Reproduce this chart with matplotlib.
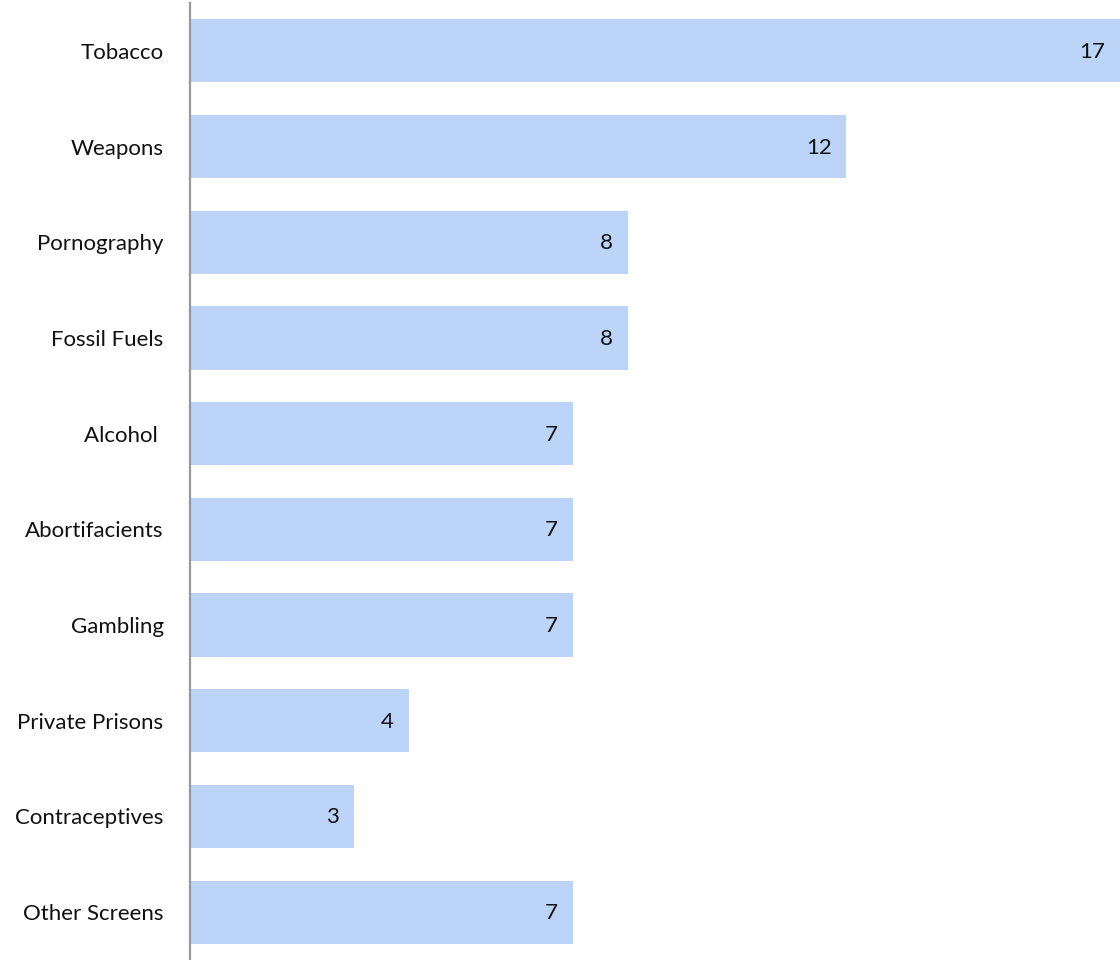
import matplotlib
matplotlib.use("Agg")
import matplotlib.pyplot as plt

categories = ["Tobacco", "Weapons", "Pornography", "Fossil Fuels", "Alcohol ",
              "Abortifacients", "Gambling", "Private Prisons", "Contraceptives",
              "Other Screens"]
counts = [17, 12, 8, 8, 7, 7, 7, 4, 3, 7]

plt.rcParams["font.family"] = ["Lato", "DejaVu Sans"]

fig = plt.figure(figsize=(11.2, 9.6), dpi=100)
ax = fig.add_axes([190 / 1120, 0, 1 - 190 / 1120, (960 - 3) / 960])

y = list(range(len(categories)))
ax.barh(y, counts, height=0.66, color="#bbd4f7")
ax.set_xlim(0, max(counts))
ax.set_ylim(len(categories) - 0.5, -0.5)
ax.set_yticks(y)
ax.set_yticklabels(categories, fontsize=16, color="#111111")
ax.tick_params(axis="y", length=0, pad=19)
ax.set_xticks([])

for s in ["top", "right", "bottom"]:
    ax.spines[s].set_visible(False)
ax.spines["left"].set_color("#999999")
ax.spines["left"].set_linewidth(1.6)

for yi, v in zip(y, counts):
    ax.annotate(str(v), xy=(v, yi), xytext=(-15, -1), textcoords="offset pixels",
                ha="right", va="center", fontsize=16, color="#111111")

fig.savefig("out.png", dpi=100)
